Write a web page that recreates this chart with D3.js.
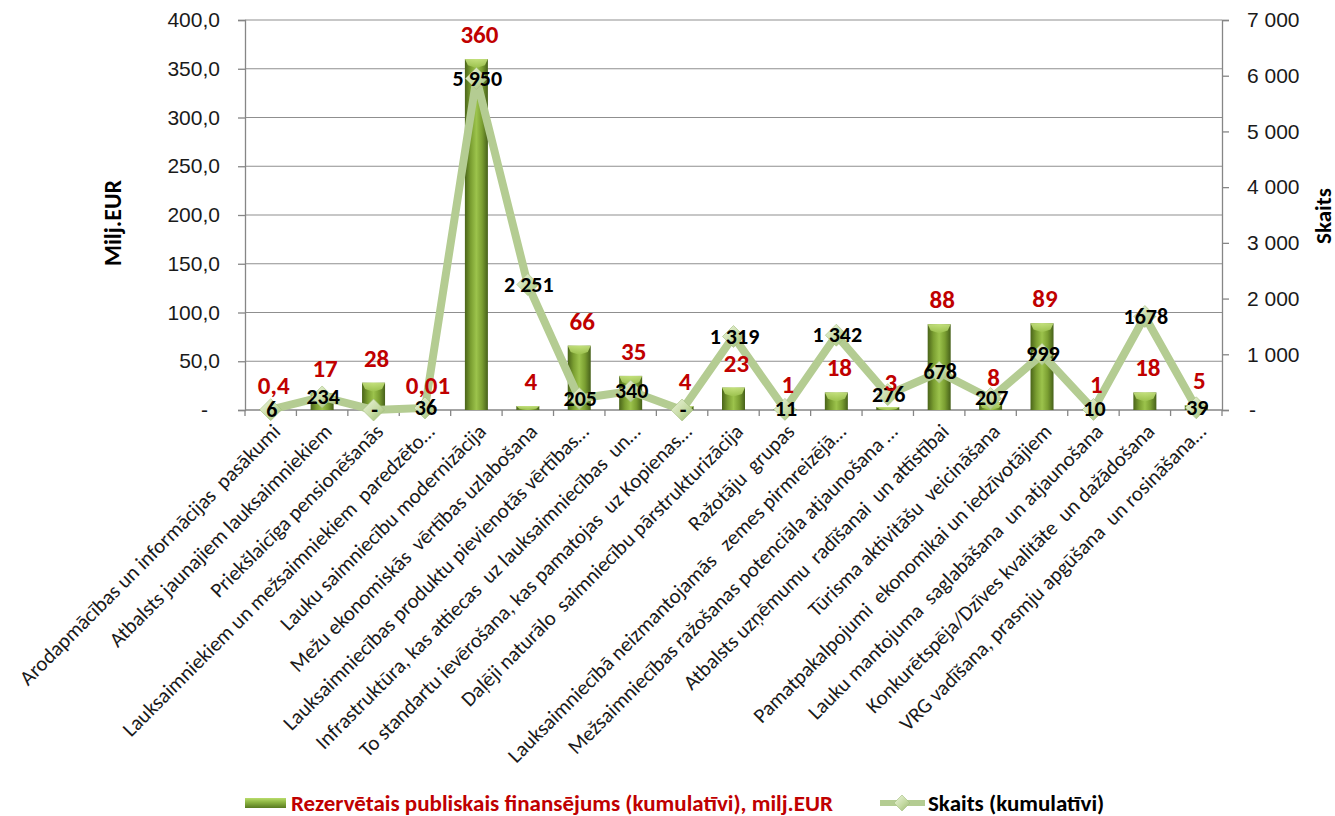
<!DOCTYPE html>
<html lang="lv">
<head>
<meta charset="utf-8">
<title>Rezervētais publiskais finansējums un skaits</title>
<script src="https://d3js.org/d3.v7.min.js"></script>
<style>
  body { margin: 0; background: #fff; }
  svg { display: block; font-family: Carlito, Calibri, Lato, sans-serif; }
</style>
</head>
<body>
<div id="chart"></div>
<script>
// categories (as shown on the x axis, truncated like the original)
var categories = [
  "Arodapmācības un informācijas  pasākumi",
  "Atbalsts jaunajiem lauksaimniekiem",
  "Priekšlaicīga pensionēšanās",
  "Lauksaimniekiem un mežsaimniekiem  paredzēto…",
  "Lauku saimniecību modernizācija",
  "Mežu ekonomiskās  vērtības uzlabošana",
  "Lauksaimniecības produktu pievienotās vērtības…",
  "Infrastruktūra, kas attiecas  uz lauksaimniecības  un…",
  "To standartu ievērošana, kas pamatojas  uz Kopienas…",
  "Daļēji naturālo  saimniecību pārstrukturizācija",
  "Ražotāju  grupas",
  "Lauksaimniecībā neizmantojamās   zemes pirmreizējā…",
  "Mežsaimniecības ražošanas potenciāla atjaunošana …",
  "Atbalsts uzņēmumu  radīšanai  un attīstībai",
  "Tūrisma aktivitāšu  veicināšana",
  "Pamatpakalpojumi  ekonomikai un iedzīvotājiem",
  "Lauku mantojuma  saglabāšana  un atjaunošana",
  "Konkurētspēja/Dzīves kvalitāte  un dažādošana",
  "VRG vadīšana, prasmju apgūšana  un rosināšana…"
];

// reserved public funding, milj. EUR (bars, left axis)
var funding = [0.4, 17, 28, 0.01, 360, 4, 66, 35, 4, 23, 1, 18, 3, 88, 8, 89, 1, 18, 5];

// count, cumulative (line, right axis)
var counts = [6, 234, 0, 36, 5950, 2251, 205, 340, 0, 1319, 11, 1342, 276, 678, 207, 999, 10, 1678, 39];
var countLabels = ["6", "234", "-", "36", "5 950", "2 251", "205", "340", "-", "1 319",
                   "11", "1 342", "276", "678", "207", "999", "10", "1678", "39"];

var leftTicks = [0, 50, 100, 150, 200, 250, 300, 350, 400];
var leftTickLabels = ["-", "50,0", "100,0", "150,0", "200,0", "250,0", "300,0", "350,0", "400,0"];
var rightTicks = [0, 1000, 2000, 3000, 4000, 5000, 6000, 7000];
var rightTickLabels = ["-", "1 000", "2 000", "3 000", "4 000", "5 000", "6 000", "7 000"];

var seriesNames = ["Rezervētais publiskais finansējums (kumulatīvi), milj.EUR", "Skaits (kumulatīvi)"];

var w = 1335, h = 816;
var pLeft = 245, pRight = 1222, pTop = 20, pBottom = 410;

var svg = d3.select("#chart").append("svg")
  .attr("width", w)
  .attr("height", h);

// gradients
var defs = svg.append("defs");
var barGrad = defs.append("linearGradient").attr("id", "barGrad")
  .attr("x1", "0").attr("x2", "1").attr("y1", "0").attr("y2", "0");
[["0%", "#4a6419"], ["25%", "#7a9e31"], ["50%", "#9cc34c"], ["75%", "#7a9e31"], ["100%", "#46601a"]]
  .forEach(function (s) { barGrad.append("stop").attr("offset", s[0]).attr("stop-color", s[1]); });

var capGrad = defs.append("linearGradient").attr("id", "capGrad")
  .attr("x1", "0").attr("x2", "0").attr("y1", "0").attr("y2", "1");
capGrad.append("stop").attr("offset", "0%").attr("stop-color", "#c8e482");
capGrad.append("stop").attr("offset", "100%").attr("stop-color", "#9cc24e");

var legGrad = defs.append("linearGradient").attr("id", "legGrad")
  .attr("x1", "0").attr("x2", "0").attr("y1", "0").attr("y2", "1");
[["0%", "#b9dc6c"], ["40%", "#8fb744"], ["100%", "#587a20"]]
  .forEach(function (s) { legGrad.append("stop").attr("offset", s[0]).attr("stop-color", s[1]); });

var diaGrad = defs.append("linearGradient").attr("id", "diaGrad")
  .attr("x1", "0").attr("x2", "1").attr("y1", "0").attr("y2", "1");
diaGrad.append("stop").attr("offset", "0%").attr("stop-color", "#eef5df");
diaGrad.append("stop").attr("offset", "55%").attr("stop-color", "#c6dba4");
diaGrad.append("stop").attr("offset", "100%").attr("stop-color", "#98b56d");

// scales
var x = d3.scaleBand().domain(d3.range(categories.length)).range([pLeft, pRight]);
var yL = d3.scaleLinear().domain([0, 400]).range([pBottom, pTop]);
var yR = d3.scaleLinear().domain([0, 7000]).range([pBottom, pTop]);
var cx = function (i) { return x(i) + x.bandwidth() / 2; };

// gridlines
svg.append("g")
  .selectAll("line")
  .data(leftTicks.filter(function (d) { return d > 0; }))
  .enter().append("line")
  .attr("x1", pLeft).attr("x2", pRight)
  .attr("y1", function (d) { return yL(d); })
  .attr("y2", function (d) { return yL(d); })
  .attr("stroke", "#8f8f8f")
  .attr("stroke-width", 1.2);

// left axis
var axL = svg.append("g")
  .attr("transform", "translate(" + pLeft + ",0)")
  .call(d3.axisLeft(yL).tickValues(leftTicks)
    .tickFormat(function (d, i) { return leftTickLabels[i]; })
    .tickSizeOuter(0).tickSize(7).tickPadding(18));

// right axis
var axR = svg.append("g")
  .attr("transform", "translate(" + pRight + ",0)")
  .call(d3.axisRight(yR).tickValues(rightTicks)
    .tickFormat(function (d, i) { return rightTickLabels[i]; })
    .tickSizeOuter(0).tickSize(7).tickPadding(18));

[axL, axR].forEach(function (ax) {
  ax.selectAll("path, line").attr("stroke", "#868686").attr("stroke-width", 1.3);
  ax.selectAll("text").attr("font-size", 21).attr("fill", "#1a1a1a").attr("font-family", null);
});
axL.selectAll(".tick").filter(function (d) { return d === 0; }).select("text").attr("x", -37);
axR.selectAll(".tick").filter(function (d) { return d === 0; }).select("text").attr("x", 27);

// x axis line and ticks between categories
svg.append("line")
  .attr("x1", pLeft).attr("x2", pRight)
  .attr("y1", pBottom).attr("y2", pBottom)
  .attr("stroke", "#868686").attr("stroke-width", 1.3);
svg.append("g")
  .selectAll("line")
  .data(d3.range(categories.length + 1))
  .enter().append("line")
  .attr("x1", function (i) { return pLeft + i * x.step(); })
  .attr("x2", function (i) { return pLeft + i * x.step(); })
  .attr("y1", pBottom).attr("y2", pBottom + 6)
  .attr("stroke", "#868686").attr("stroke-width", 1.3);

// category labels
svg.append("g")
  .selectAll("text")
  .data(categories)
  .enter().append("text")
  .attr("transform", function (d, i) { return "translate(" + (cx(i) - 1) + "," + (pBottom + 11) + ") rotate(-45)"; })
  .attr("text-anchor", "end")
  .attr("dy", "0.8em")
  .attr("font-size", 21)
  .attr("fill", "#1a1a1a")
  .style("white-space", "pre")
  .text(function (d) { return d; });

// bars
var barW = 23;
var bars = svg.append("g");
bars.selectAll("rect")
  .data(funding)
  .enter().append("rect")
  .attr("x", function (d, i) { return cx(i) - barW / 2; })
  .attr("y", function (d) { return yL(d); })
  .attr("width", barW)
  .attr("height", function (d) { return pBottom - yL(d); })
  .attr("fill", "url(#barGrad)");
bars.selectAll("path")
  .data(funding)
  .enter().append("path")
  .attr("d", function (d, i) {
    var x0 = cx(i) - barW / 2, x1 = cx(i) + barW / 2, y0 = yL(d);
    var cap = Math.min(9, pBottom - y0);
    return "M" + x0 + "," + y0 + "L" + x1 + "," + y0 +
      "L" + (x1 - 3) + "," + (y0 + cap * 0.7) +
      "L" + cx(i) + "," + (y0 + cap) +
      "L" + (x0 + 3) + "," + (y0 + cap * 0.7) + "Z";
  })
  .attr("fill", "url(#capGrad)")
  .attr("opacity", 0.9);

// line
svg.append("path")
  .datum(counts)
  .attr("d", d3.line().x(function (d, i) { return cx(i); }).y(function (d) { return yR(d); }))
  .attr("fill", "none")
  .attr("stroke", "#b4cc92")
  .attr("stroke-width", 8)
  .attr("stroke-linejoin", "miter");

// diamond markers
var dia = function (px, py, r) {
  return "M" + px + "," + (py - r) + "L" + (px + r) + "," + py + "L" + px + "," + (py + r) + "L" + (px - r) + "," + py + "Z";
};
svg.append("g")
  .selectAll("path")
  .data(counts)
  .enter().append("path")
  .attr("d", function (d, i) { return dia(cx(i), yR(d), 11); })
  .attr("fill", "url(#diaGrad)")
  .attr("stroke", "#a3bd7d")
  .attr("stroke-width", 0.6);

// count labels
svg.append("g")
  .selectAll("text")
  .data(counts)
  .enter().append("text")
  .attr("x", function (d, i) { return cx(i) + 1; })
  .attr("y", function (d) { return yR(d) + 7; })
  .attr("text-anchor", "middle")
  .attr("font-size", 22)
  .attr("font-weight", "bold")
  .attr("fill", "#000")
  .text(function (d, i) { return countLabels[i]; });

// funding labels
svg.append("g")
  .selectAll("text")
  .data(funding)
  .enter().append("text")
  .attr("x", function (d, i) { return cx(i) + 3; })
  .attr("y", function (d) { return yL(d) - 16; })
  .attr("text-anchor", "middle")
  .attr("font-size", 25)
  .attr("font-weight", "bold")
  .attr("fill", "#c00000")
  .text(function (d) { return String(d).replace(".", ","); });

// axis titles
svg.append("text")
  .attr("transform", "translate(121,223) rotate(-90)")
  .attr("text-anchor", "middle")
  .attr("font-size", 24)
  .attr("font-weight", "bold")
  .text("Milj.EUR");
svg.append("text")
  .attr("transform", "translate(1331,216) rotate(-90)")
  .attr("text-anchor", "middle")
  .attr("font-size", 23)
  .attr("font-weight", "bold")
  .text("Skaits");

// legend
var leg = svg.append("g");
leg.append("rect")
  .attr("x", 245).attr("y", 798).attr("width", 41).attr("height", 10)
  .attr("fill", "url(#legGrad)");
leg.append("text")
  .attr("x", 291).attr("y", 811)
  .attr("font-size", 23).attr("font-weight", "bold").attr("fill", "#c00000")
  .text(seriesNames[0]);
leg.append("line")
  .attr("x1", 880).attr("x2", 925).attr("y1", 803).attr("y2", 803)
  .attr("stroke", "#b4cc92").attr("stroke-width", 6);
leg.append("path")
  .attr("d", dia(902, 803, 8))
  .attr("fill", "url(#diaGrad)").attr("stroke", "#a3bd7d").attr("stroke-width", 0.6);
leg.append("text")
  .attr("x", 928).attr("y", 811)
  .attr("font-size", 23).attr("font-weight", "bold").attr("fill", "#000")
  .text(seriesNames[1]);
</script>
</body>
</html>
